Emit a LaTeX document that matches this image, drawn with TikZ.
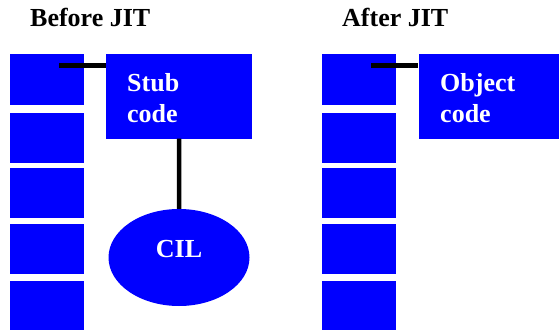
\documentclass[tikz,border=0pt]{standalone}
\usepackage{fontspec}
\setmainfont{Liberation Serif}
\usetikzlibrary{shapes.geometric,calc}
\definecolor{jitblue}{RGB}{0,0,255}
\tikzset{
  slotbox/.style={fill=jitblue,draw=none,inner sep=0pt,minimum width=74pt,minimum height=50pt},
  codebox/.style={fill=jitblue,draw=none,inner sep=0pt,minimum height=84pt},
  wire/.style={draw=black,line width=4.5pt},
  boxtext/.style={font=\fontsize{26}{31}\selectfont\bfseries,text=white,inner sep=0pt},
  title/.style={font=\fontsize{26}{31}\selectfont\bfseries,text=black,inner sep=0pt}
}
\begin{document}
\begin{tikzpicture}[x=1pt,y=-1pt]
\useasboundingbox (0,0) rectangle (559,329);

% headings
\node[title,anchor=base west] (t1) at (30,27) {Before JIT};
\node[title,anchor=base west] (t2) at (342,27) {After JIT};

% method table slots, before and after compilation
\foreach \n/\y in {1/54.3,2/112.3,3/167.3,4/224,5/280.7}{
  \node[slotbox,anchor=north west] (l\n) at (10,\y) {};
  \node[slotbox,anchor=north west] (r\n) at (322,\y) {};
}

% stub and CIL
\node[codebox,minimum width=146pt,anchor=north west] (stub) at (106,54.3) {};
\node[boxtext,anchor=base west] (stubtxt) at (127,91) {Stub};
\node[boxtext,anchor=base west] (stubtxt2) at (127,122) {code};
\node[ellipse,fill=jitblue,draw=none,inner sep=0pt,minimum width=141pt,minimum height=97pt] (cil) at (179,257.5) {};
\node[boxtext,anchor=base] (ciltxt) at ($(cil.center)+(0,-0.5)$) {CIL};

% object code after compilation
\node[codebox,minimum width=141pt,anchor=north west] (obj) at (418.3,54.3) {};
\node[boxtext,anchor=base west] (objtxt) at (440,91) {Object};
\node[boxtext,anchor=base west] (objtxt2) at (440,122) {code};

% pointers
\coordinate (p1) at (59,65.3);
\coordinate (p2) at (371,65.3);
\draw[wire] (p1) -- (p1 -| stub.west);
\draw[wire] (p2) -- (p2 -| obj.west);
\draw[wire] (stub.south) -- (cil.north);
\end{tikzpicture}
\end{document}
